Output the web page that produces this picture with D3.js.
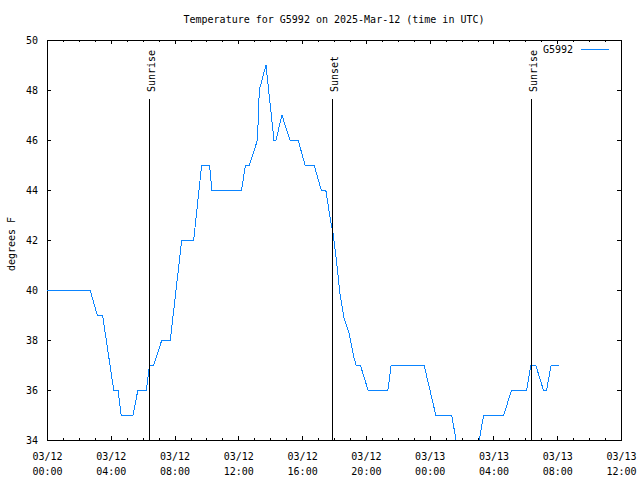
<!DOCTYPE html>
<html>
<head>
<meta charset="utf-8">
<script src="https://cdn.jsdelivr.net/npm/d3@7"></script>
<style>
  html, body { margin: 0; padding: 0; background: #fff; }
  svg text { font-family: "DejaVu Sans Mono", "Liberation Mono", monospace; font-size: 10px; fill: #000; }
</style>
</head>
<body>
<svg id="chart" width="640" height="480"></svg>
<script>
// ---- data ----
const title = "Temperature for G5992 on 2025-Mar-12 (time in UTC)";
const seriesName = "G5992";
const yLabel = "degrees F";
const times = [
  "2025-03-12T00:00","2025-03-12T02:42","2025-03-12T03:09","2025-03-12T03:29","2025-03-12T04:11",
  "2025-03-12T04:27","2025-03-12T04:39","2025-03-12T05:24","2025-03-12T05:42","2025-03-12T06:14",
  "2025-03-12T06:26","2025-03-12T06:42","2025-03-12T07:12","2025-03-12T07:44","2025-03-12T08:27",
  "2025-03-12T09:12","2025-03-12T09:42","2025-03-12T10:12","2025-03-12T10:20","2025-03-12T12:12",
  "2025-03-12T12:27","2025-03-12T12:42","2025-03-12T13:12","2025-03-12T13:19","2025-03-12T13:44",
  "2025-03-12T14:14","2025-03-12T14:22","2025-03-12T14:44","2025-03-12T15:14","2025-03-12T15:45",
  "2025-03-12T16:11","2025-03-12T16:45","2025-03-12T17:12","2025-03-12T17:29","2025-03-12T17:35",
  "2025-03-12T17:45","2025-03-12T17:56","2025-03-12T18:08","2025-03-12T18:22","2025-03-12T18:37",
  "2025-03-12T18:56","2025-03-12T19:15","2025-03-12T19:23","2025-03-12T19:39","2025-03-12T20:08",
  "2025-03-12T21:23","2025-03-12T21:35","2025-03-12T23:39","2025-03-13T00:23","2025-03-13T01:23",
  "2025-03-13T01:39","2025-03-13T02:07","2025-03-13T02:37","2025-03-13T03:07","2025-03-13T03:23",
  "2025-03-13T04:39","2025-03-13T05:08","2025-03-13T06:05","2025-03-13T06:21","2025-03-13T06:39",
  "2025-03-13T07:08","2025-03-13T07:20","2025-03-13T07:37","2025-03-13T08:07"
];
const temps = [
  40, 40, 39, 39, 36,
  36, 35, 35, 36, 36,
  37, 37, 38, 38, 42,
  42, 45, 45, 44, 44,
  45, 45, 46, 48, 49,
  46, 46, 47, 46, 46,
  45, 45, 44, 44, 43.6,
  42.9, 42.3, 41.3, 39.9, 38.9,
  38.3, 37.3, 37, 37, 36,
  36, 37, 37, 35, 35,
  34, 33, 33, 34, 35,
  35, 36, 36, 37, 37,
  36, 36, 37, 37
];
const eventNames = ["Sunrise", "Sunset", "Sunrise"];
const eventTimes = ["2025-03-12T06:24", "2025-03-12T17:54", "2025-03-13T06:20"];
const xDomain = ["2025-03-12T00:00", "2025-03-13T12:00"];
const yDomain = [34, 50];
const yTicks = [34, 36, 38, 40, 42, 44, 46, 48, 50];

// ---- layout ----
const L = 47, R = 621, T = 40, B = 440;
const parse = s => new Date(s + ":00Z");
const svg = d3.select("#chart");

const x = d3.scaleUtc().domain(xDomain.map(parse)).range([L, R]);
const y = d3.scaleLinear().domain(yDomain).range([B, T]);

const data = times.map((t, i) => ({ t: parse(t), v: temps[i] }));

// clip
svg.append("defs").append("clipPath").attr("id", "clip")
  .append("rect").attr("x", L).attr("y", T).attr("width", R - L).attr("height", B - T);

const majorX = d3.utcHour.every(4).range(x.domain()[0], d3.utcHour.offset(x.domain()[1], 1));
const minorX = d3.utcHour.every(1).range(x.domain()[0], d3.utcHour.offset(x.domain()[1], 1));

const fmtDate = d3.utcFormat("%m/%d");
const fmtTime = d3.utcFormat("%H:%M");

// minor ticks bottom / top
svg.append("g").attr("transform", `translate(0,${B})`)
  .call(d3.axisBottom(x).tickValues(minorX).tickSize(-2).tickFormat(""))
  .call(g => g.select(".domain").remove());
svg.append("g").attr("transform", `translate(0,${T})`)
  .call(d3.axisTop(x).tickValues(minorX).tickSize(-2).tickFormat(""))
  .call(g => g.select(".domain").remove());

// major bottom
const gx = svg.append("g").attr("transform", `translate(0,${B})`)
  .call(d3.axisBottom(x).tickValues(majorX).tickSize(-4).tickPadding(0).tickFormat(fmtDate))
  .call(g => g.select(".domain").remove());
gx.selectAll(".tick text").each(function(d) {
  const t = d3.select(this);
  t.attr("dy", null).attr("y", 20).text(null);
  t.append("tspan").attr("x", 0).attr("y", 20).text(fmtDate(d));
  t.append("tspan").attr("x", 0).attr("y", 35).text(fmtTime(d));
});
gx.selectAll("text").style("font-family", "DejaVu Sans Mono").style("font-size", "10px");

// major top
svg.append("g").attr("transform", `translate(0,${T})`)
  .call(d3.axisTop(x).tickValues(majorX).tickSize(-4).tickFormat(""))
  .call(g => g.select(".domain").remove());

// y axis left / right
const gy = svg.append("g").attr("transform", `translate(${L},0)`)
  .call(d3.axisLeft(y).tickValues(yTicks).tickSize(-4).tickPadding(9).tickFormat(d3.format("d")))
  .call(g => g.select(".domain").remove());
gy.selectAll("text").style("font-family", "DejaVu Sans Mono").style("font-size", "10px");
svg.append("g").attr("transform", `translate(${R},0)`)
  .call(d3.axisRight(y).tickValues(yTicks).tickSize(-4).tickFormat(""))
  .call(g => g.select(".domain").remove());

svg.selectAll(".tick line").attr("stroke", "#000").attr("shape-rendering", "crispEdges");

// border
svg.append("rect").attr("x", L).attr("y", T).attr("width", R - L).attr("height", B - T)
  .attr("fill", "none").attr("stroke", "#000").attr("stroke-width", 1)
  .attr("shape-rendering", "crispEdges");

// data line
const line = d3.line().x(d => x(d.t)).y(d => y(d.v));
svg.append("path").datum(data)
  .attr("clip-path", "url(#clip)")
  .attr("fill", "none").attr("stroke", "#0a84ff").attr("stroke-width", 1)
  .attr("shape-rendering", "crispEdges")
  .attr("d", line);

// sunrise / sunset markers
eventTimes.forEach((t, i) => {
  const ex = Math.round(x(parse(t))) + 0.5;
  svg.append("line").attr("x1", ex).attr("x2", ex).attr("y1", 99).attr("y2", B)
    .attr("stroke", "#000").attr("stroke-width", 1);
  svg.append("text")
    .attr("transform", `translate(${ex + 5},92) rotate(-90)`)
    .attr("text-anchor", "start")
    .text(eventNames[i]);
});

// title
svg.append("text").attr("x", (L + R) / 2).attr("y", 23).attr("text-anchor", "middle").text(title);

// y label
svg.append("text").attr("transform", `translate(15,244) rotate(-90)`)
  .attr("text-anchor", "middle").text(yLabel);

// legend
svg.append("text").attr("x", 573).attr("y", 52.5).attr("text-anchor", "end").text(seriesName);
svg.append("line").attr("x1", 581).attr("x2", 609).attr("y1", 49.5).attr("y2", 49.5)
  .attr("stroke", "#0a84ff").attr("stroke-width", 1);
</script>
</body>
</html>
